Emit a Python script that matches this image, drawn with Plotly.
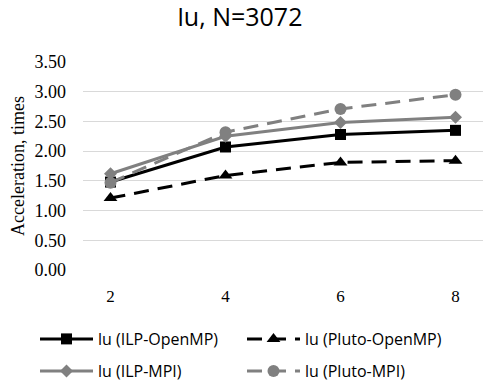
import plotly.graph_objects as go

categories = ["2", "4", "6", "8"]
ilp_openmp = [1.48, 2.07, 2.28, 2.35]
pluto_openmp = [1.21, 1.59, 1.81, 1.84]
ilp_mpi = [1.62, 2.25, 2.48, 2.57]
pluto_mpi = [1.47, 2.32, 2.71, 2.95]
y_ticks = [0, 0.5, 1.0, 1.5, 2.0, 2.5, 3.0, 3.5]

BLACK = "#000000"
GRAY = "#808080"
SERIF = "Liberation Serif"
SANS = "Open Sans"

fig = go.Figure()
fig.add_trace(go.Scatter(x=categories, y=ilp_openmp, name="lu (ILP-OpenMP)", mode="lines+markers",
                         line=dict(color=BLACK, width=3), legend="legend",
                         marker=dict(symbol="square", size=11, color=BLACK)))
fig.add_trace(go.Scatter(x=categories, y=pluto_openmp, name="lu (Pluto-OpenMP)", mode="lines+markers",
                         line=dict(color=BLACK, width=3, dash="15px,9px"), legend="legend",
                         marker=dict(symbol="triangle-up", size=12, color=BLACK)))
fig.add_trace(go.Scatter(x=categories, y=ilp_mpi, name="lu (ILP-MPI)", mode="lines+markers",
                         line=dict(color=GRAY, width=3), legend="legend2",
                         marker=dict(symbol="diamond", size=10, color=GRAY)))
fig.add_trace(go.Scatter(x=categories, y=pluto_mpi, name="lu (Pluto-MPI)", mode="lines+markers",
                         line=dict(color=GRAY, width=3, dash="15px,9px"), legend="legend2",
                         marker=dict(symbol="circle", size=12, color=GRAY)))

legend_common = dict(orientation="h", xref="paper", yref="paper", x=-0.12,
                     xanchor="left", yanchor="middle", entrywidth=139, entrywidthmode="pixels",
                     itemwidth=53, bgcolor="rgba(0,0,0,0)",
                     font=dict(family=SANS, size=16, color="#000000"))

fig.update_layout(
    width=494, height=388,
    margin=dict(l=75, r=19, t=54, b=126, autoexpand=False),
    paper_bgcolor="white", plot_bgcolor="white",
    title=dict(text="lu, N=3072", x=(240 - 8) / 494, xanchor="center", y=1,
               yanchor="top", yref="container",
               font=dict(family=SANS, size=25, color="#000000")),
    xaxis=dict(type="category", showgrid=False, zeroline=False, showline=False,
               ticks="", ticklabelstandoff=14,
               tickfont=dict(family=SERIF, size=17, color="#000000")),
    yaxis=dict(range=[0, 3.5], tickvals=y_ticks, ticktext=[f"{v:.2f}" for v in y_ticks],
               showgrid=True, gridcolor="#d9d9d9", gridwidth=1, zeroline=False, showline=False,
               ticklabelstandoff=16,
               tickfont=dict(family=SERIF, size=18, color="#000000"),
               title=dict(text="Acceleration, times", standoff=6,
                          font=dict(family=SERIF, size=18, color="#000000"))),
    legend=dict(legend_common, y=-(339 - 270) / 208),
    legend2=dict(legend_common, y=-(371 - 270) / 208),
    showlegend=True,
)

fig.write_html("out.html")
